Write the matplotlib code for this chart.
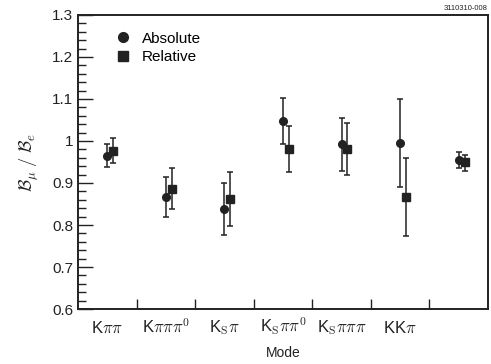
import numpy as np
import matplotlib
matplotlib.use('Agg')
import matplotlib.pyplot as plt
from matplotlib.lines import Line2D
from matplotlib.ticker import MultipleLocator, FixedLocator, FixedFormatter

plt.rcParams.update({
    'font.family': ['Liberation Sans', 'DejaVu Sans'],
    'mathtext.fontset': 'cm',
    'mathtext.rm': 'Liberation Sans',
})

# ── 데이터 ──────────────────────────────────────────────
modes = [r'K$\pi\pi$', r'K$\pi\pi\pi^{\rm 0}$', r'K$_{\rm S}\pi$',
         r'K$_{\rm S}\pi\pi^{\rm 0}$', r'K$_{\rm S}\pi\pi\pi$', r'KK$\pi$', '']

abs_val = [0.965, 0.866, 0.837, 1.048, 0.992, 0.996, 0.955]
abs_hi  = [0.993, 0.915, 0.901, 1.103, 1.054, 1.099, 0.973]
abs_lo  = [0.938, 0.820, 0.777, 0.992, 0.929, 0.891, 0.936]

rel_val = [0.977, 0.885, 0.861, 0.981, 0.981, 0.866, 0.950]
rel_hi  = [1.007, 0.936, 0.926, 1.036, 1.043, 0.959, 0.967]
rel_lo  = [0.948, 0.837, 0.798, 0.925, 0.919, 0.775, 0.929]

INK = '#222222'

fig = plt.figure(figsize=(4.91, 3.64), dpi=100)
ax = fig.add_axes([0.159, 0.151, 0.835, 0.808])

x = np.arange(len(modes)) + 0.5
av, rv = np.array(abs_val), np.array(rel_val)
abs_err = [av - np.array(abs_lo), np.array(abs_hi) - av]
rel_err = [rv - np.array(rel_lo), np.array(rel_hi) - rv]

ax.errorbar(x, av, yerr=abs_err, fmt='o', color=INK, ms=5.5,
            elinewidth=1.1, capsize=2, capthick=1.1)
ax.errorbar(x + 0.1, rv, yerr=rel_err, fmt='s', color=INK, ms=5.5,
            elinewidth=1.1, capsize=2, capthick=1.1)

ax.set_xlim(0, len(modes))
ax.set_ylim(0.6, 1.3)

# 눈금
ax.xaxis.set_major_locator(FixedLocator(np.arange(1, len(modes))))
ax.xaxis.set_major_formatter(FixedFormatter([]))
ax.xaxis.set_minor_locator(FixedLocator(x))
ax.xaxis.set_minor_formatter(FixedFormatter(modes))
ax.tick_params(axis='x', which='major', direction='in', length=7, width=1, color=INK)
ax.tick_params(axis='x', which='minor', length=0, labelsize=12, pad=17, labelcolor=INK)
for lbl in ax.get_xticklabels(minor=True):
    lbl.set_verticalalignment('baseline')

ax.yaxis.set_minor_locator(MultipleLocator(0.02))
ax.set_yticks(np.arange(0.6, 1.31, 0.1))
ax.set_yticklabels(['0.6', '0.7', '0.8', '0.9', '1', '1.1', '1.2', '1.3'])
ax.tick_params(axis='y', which='major', direction='in', length=11, width=1,
               labelsize=11, color=INK, labelcolor=INK)
ax.tick_params(axis='y', which='minor', direction='in', length=6, width=1, color=INK)

for s in ax.spines.values():
    s.set_linewidth(1.4)
    s.set_color(INK)

ax.set_xlabel('Mode', fontsize=10, color=INK)
ax.xaxis.set_label_coords(0.5, -0.125)
ax.set_ylabel(r'$\mathcal{B}_{\mu}\;/\;\mathcal{B}_{e}$', fontsize=13,
              color=INK, labelpad=8)

handles = [Line2D([], [], marker='o', ls='', color=INK, ms=7, label='Absolute'),
           Line2D([], [], marker='s', ls='', color=INK, ms=7, label='Relative')]
ax.legend(handles=handles, loc='upper left', frameon=False, fontsize=11,
          handletextpad=0.2, labelspacing=0.3, bbox_to_anchor=(0.04, 0.99))

fig.text(0.993, 0.985, '3110310-008', ha='right', va='top', fontsize=5.5, color=INK)

fig.savefig('out.png', dpi=100)
